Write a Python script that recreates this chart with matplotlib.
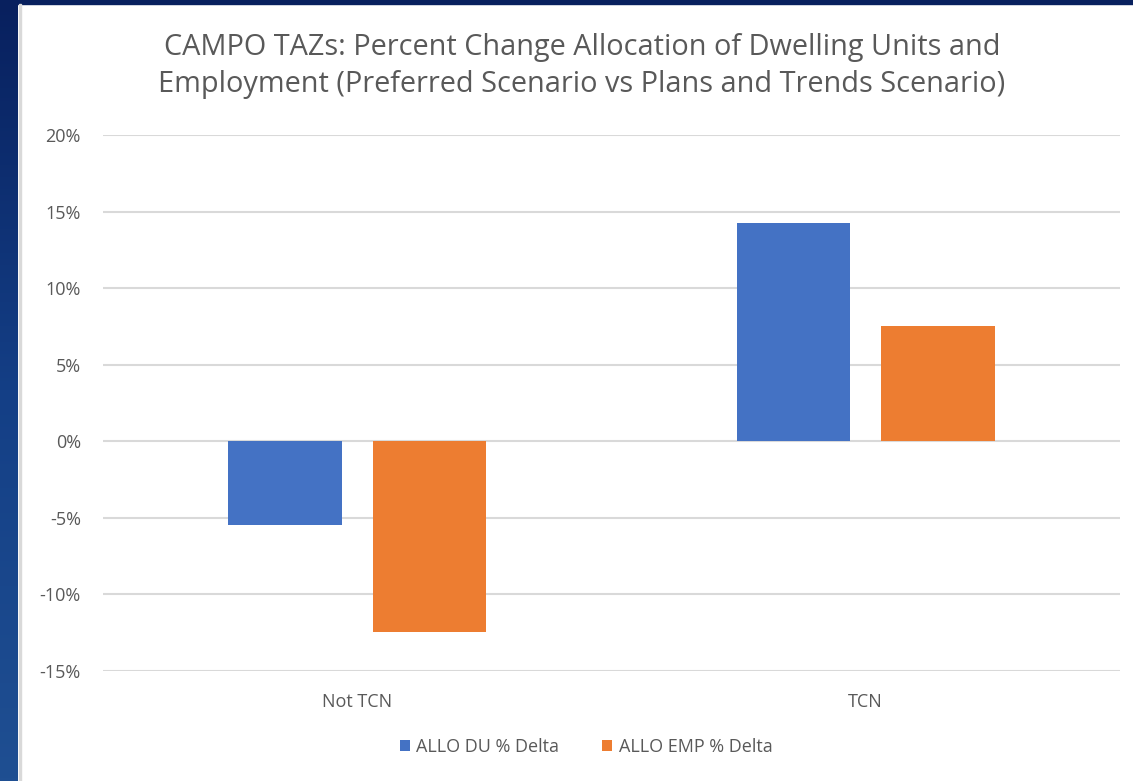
import numpy as np
import matplotlib
matplotlib.use("Agg")
import matplotlib.pyplot as plt
from matplotlib.patches import Rectangle
from matplotlib.ticker import FuncFormatter
from matplotlib.colors import LinearSegmentedColormap

categories = ["Not TCN", "TCN"]
series_names = ["ALLO DU % Delta", "ALLO EMP % Delta"]
du_delta = [-5.45, 14.25]
emp_delta = [-12.45, 7.5]
yticks = [-15, -10, -5, 0, 5, 10, 15, 20]

title = ("CAMPO TAZs: Percent Change Allocation of Dwelling Units and\n"
         "Employment (Preferred Scenario vs Plans and Trends Scenario)")

W, H = 1133, 781
fig = plt.figure(figsize=(W / 100, H / 100), dpi=100)
fig.patch.set_facecolor("white")
plt.rcParams['font.family'] = ['Open Sans', 'DejaVu Sans']

# background blue strip (left) and top
bg = fig.add_axes([0, 0, 1, 1])
bg.axis("off")
grad = np.linspace(0, 1, 256).reshape(-1, 1)
cm = LinearSegmentedColormap.from_list("b", ["#08205e", "#143f86", "#1f4f92"])
bg.imshow(grad, cmap=cm, extent=[0, 18, H, 0], aspect="auto", zorder=0)
bg.add_patch(Rectangle((0, 0), W, 4, color="#08205e", zorder=1))
bg.add_patch(Rectangle((19, 4), 2, H - 4, color="#d9d9d9", zorder=1))
bg.set_xlim(0, W); bg.set_ylim(H, 0)

ax = fig.add_axes([103 / W, 1 - 671 / H, (1120 - 103) / W, (671 - 135) / H])
ax.set_facecolor("none")
x = np.arange(len(categories))
width = 0.223
off = 0.142
ax.bar(x - off, du_delta, width, color="#4472C4", label=series_names[0], zorder=3)
ax.bar(x + off, emp_delta, width, color="#ED7D31", label=series_names[1], zorder=3)
ax.set_xlim(-0.5, 1.5)
ax.set_ylim(-15, 20)
ax.set_yticks(yticks)
ax.yaxis.set_major_formatter(FuncFormatter(lambda v, p: f"{v:.0f}%"))
ax.set_xticks(x)
ax.set_xticklabels(categories)
ax.grid(axis="y", color="#d9d9d9", linewidth=1.5, zorder=0)
ax.tick_params(axis="both", length=0, colors="#595959", labelsize=13)
ax.tick_params(axis="y", pad=16)
ax.tick_params(axis="x", pad=16)
for s in ax.spines.values():
    s.set_visible(False)

fig.text(582 / W, 1 - 66 / H, title, ha="center", va="center",
         fontsize=20.8, color="#595959", linespacing=1.35)

leg = fig.legend(loc="center", bbox_to_anchor=(586 / W, 1 - 747 / H), ncol=2,
                 frameon=False, fontsize=13, labelcolor="#595959",
                 handlelength=0.55, handleheight=0.55, handletextpad=0.35,
                 columnspacing=2.4)

fig.savefig("out.png", dpi=100, facecolor="white")
